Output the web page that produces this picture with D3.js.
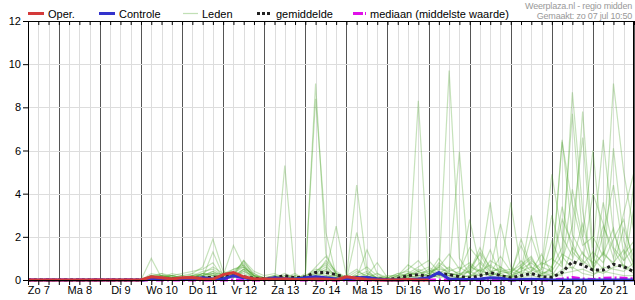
<!DOCTYPE html>
<html>
<head>
<meta charset="utf-8">
<script src="https://cdn.jsdelivr.net/npm/d3@7"></script>
<style>
body { margin: 0; background: #fff; }
svg { display: block; font-family: Arial, "Liberation Sans", sans-serif; }
.axis text { font-size: 11px; fill: #000; }
</style>
</head>
<body>
<div id="my_dataviz"></div>
<script>
// day labels, placed at noon of every day (6-hourly steps, first step = zo 7 06:00)
var dayLabels = ["Zo 7","Ma 8","Di 9","Wo 10","Do 11","Vr 12","Za 13","Zo 14","Ma 15","Di 16","Wo 17","Do 18","Vr 19","Za 20","Zo 21"];
var yTicks = [0, 2, 4, 6, 8, 10, 12];

// operational run (stops at wo 17)
var oper = [0,0,0, 0,0,0,0, 0,0,0,0, 0,0.15,0.1,0.05, 0.1,0.12,0.05,0.03, 0.25,0.35,0.15,0.05, 0.05,0.03,0.05,0.02, 0.02,0.05,0.03,0, 0.15,0.08,0.02,0, 0,0,0.02,0, 0];
// control run
var controle = [0,0,0, 0,0,0,0, 0,0,0,0, 0,0.03,0.05,0.02, 0.02,0.05,0.1,0.05, 0.05,0.2,0.1,0.02, 0.02,0.1,0.05,0.05, 0.1,0.15,0.1,0.05, 0.05,0.1,0.12,0.05, 0,0,0.02,0.05, 0.1,0.35,0.05,0.02, 0.02,0.05,0.1,0.08, 0,0.02,0.03,0.02, 0,0,0,0, 0,0,0,0, 0];
var gemiddelde = [0,0,0, 0,0,0,0, 0,0,0,0, 0,0.05,0.08,0.05, 0.05,0.08,0.1,0.12, 0.15,0.2,0.15,0.08, 0.05,0.1,0.2,0.1, 0.15,0.35,0.35,0.25, 0.1,0.12,0.1,0.05, 0.03,0.08,0.2,0.25, 0.15,0.3,0.25,0.15, 0.1,0.2,0.35,0.2, 0.1,0.2,0.3,0.15, 0.12,0.35,0.85,0.7, 0.46,0.46,0.73,0.62, 0.38];
var mediaan = [0,0,0, 0,0,0,0, 0,0,0,0, 0,0,0,0, 0,0,0,0, 0,0,0,0, 0,0.03,0.05,0, 0,0,0,0, 0,0,0,0, 0,0,0,0, 0,0,0,0, 0,0,0,0, 0,0,0,0, 0,0.05,0.12,0.05, 0.02,0.08,0.1,0.08, 0.05];

// ensemble members
var lid01 = [0,0,0, 0,0,0,0, 0,0,0,0, 0,1.0,0.1,0.2, 0.1,0,0.2,0.3, 0.1,0.3,0.9,0.2, 0,0.1,0,0.2, 0.1,9.1,1.2,0.3, 0,0.2,0,0.1, 0,0,0.1,0.4, 0.2,0.6,0.3,0, 0.5,1.2,0.4,0.2, 0.1,0.6,1.0,0.3, 0.4,6.5,2.1,1.2, 0.8,2.5,1.4,0.6, 0.3];
var lid02 = [0,0,0, 0,0,0,0, 0,0,0,0, 0,0.2,0.3,0.1, 0.2,0.3,0.6,1.9, 0.4,0.2,0.5,0.1, 0,0,5.3,0.1, 0,0.2,0.9,0.4, 0.1,4.4,0.5,0, 0,0.1,0.3,0.2, 0.5,0.2,9.7,1.0, 0.3,0.8,0.3,0.6, 0.2,0.4,3.0,0.7, 1.0,0.6,8.7,3.2, 0.5,1.3,0.7,2.4, 1.0];
var lid03 = [0,0,0, 0,0,0,0, 0,0,0,0, 0,0.1,0.2,0.2, 0.1,0.2,0.4,0.5, 0.2,1.6,0.6,0.2, 0.1,0.2,0.1,0, 0.3,8.4,2.2,0.2, 0,2.2,0.3,0.1, 0.1,0,0.2,8.3, 0.4,0.3,0.6,0.2, 2.8,0.6,0.2,0.4, 0.3,1.6,0.5,0.2, 0.6,1.5,7.7,2.0, 6.0,1.2,0.8,1.4, 0.5];
var lid04 = [0,0,0, 0,0,0,0, 0,0,0,0, 0,0.2,0.1,0.3, 0.2,0.1,0.3,0.6, 0.3,0.4,0.8,0.3, 0,0.1,0.3,0.1, 0.2,0.5,0.4,2.5, 0.2,0.1,1.4,0.3, 0,0.2,0.5,0.9, 0.3,1.0,0.4,5.95, 0.2,0.5,3.6,0.3, 0.4,0.2,0.9,0.5, 4.9,2.0,1.1,7.8, 1.5,6.5,2.2,0.9, 4.5];
var lid05 = [0,0,0, 0,0,0,0, 0,0,0,0, 0,0.3,0.2,0.1, 0,0.2,0.1,1.3, 0.2,0.5,0.7,0.1, 0,0,0.1,0.2, 0.1,0.3,0.6,0.2, 0.1,0.4,0.2,0.8, 0.1,0.3,0.4,0.2, 0.2,0.8,0.5,0.3, 0.4,1.5,0.5,2.6, 0.6,0.3,0.4,1.2, 0.3,6.4,3.5,1.6, 2.0,1.1,9.1,5.0, 2.2];
var lid06 = [0,0,0, 0,0,0,0, 0,0,0,0, 0,0.1,0.3,0.2, 0.1,0.2,0.2,0.4, 0.1,0.2,0.9,0.4, 0.2,0.3,0.1,0, 0.2,0.4,0.8,0.3, 0,0.3,0.6,0.2, 0,0.1,0.3,0.6, 0.9,0.4,0.3,0.2, 0.6,0.4,0.7,0.3, 3.6,0.5,0.8,0.4, 0.2,0.9,2.5,6.6, 1.0,0.5,6.1,1.8, 0.7];
var lid07 = [0,0,0, 0,0,0,0, 0,0,0,0, 0,0.2,0.2,0.1, 0.1,0.1,0.3,0.2, 0.2,0.3,0.6,0.2, 0,0.1,0.2,0.1, 0.1,0.6,1.1,0.3, 0.1,0.2,0.4,0.1, 0.2,0.2,0.7,0.4, 0.6,0.3,0.2,0.4, 1.5,0.9,0.4,0.5, 0.2,1.9,0.6,0.3, 0.5,3.4,1.3,0.8, 4.0,2.6,1.0,3.1, 5.0];
var lid08 = [0,0,0, 0,0,0,0, 0,0,0,0, 0,0.1,0.1,0.2, 0.3,0.4,0.5,0.8, 0.1,0.2,0.5,0.1, 0.1,0,0.1,0.3, 0,0.4,0.7,0.1, 0.2,0.5,0.1,0, 0.1,0,0.2,0.5, 0.3,0.6,1.2,0.5, 0.8,0.4,0.3,1.1, 0.4,0.7,1.1,0.2, 1.8,0.7,4.2,1.9, 0.6,3.6,1.5,0.9, 1.5];
var lid09 = [0,0,0, 0,0,0,0, 0,0,0,0, 0,0.2,0.1,0.1, 0.1,0.2,0.3,0.3, 0.3,0.5,0.6,0.2, 0,0.2,0.1,0.1, 0.1,0.2,0.5,0.2, 0,0.1,0.3,0.1, 0.1,0.2,0.3,0.3, 0.4,0.5,0.4,0.6, 0.3,1.3,0.6,0.4, 0.5,0.3,2.0,0.6, 0.4,1.2,0.9,2.6, 0.7,1.2,2.4,0.5, 3.4];
var lid10 = [0,0,0, 0,0,0,0, 0,0,0,0, 0,0.1,0.2,0.1, 0,0.1,0.1,0.2, 0.1,0.2,0.4,0.1, 0,0.1,0,0.1, 0.1,0.3,0.2,0.1, 0,0.1,0.2,0, 0,0.1,0.1,0.2, 0.2,0.3,0.2,0.1, 0.2,0.3,0.2,0.1, 0.1,0.2,0.3,0.2, 0.2,0.3,0.4,0.5, 0.3,0.4,0.3,0.2, 0.2];
var lid11 = [0,0,0, 0,0,0,0, 0,0,0,0, 0,0,0.1,0.2, 0.1,0.3,0.2,0.1, 0,0.3,0.7,0.2, 0.1,0,0.2,0, 0,0.2,0.3,0.1, 0.1,0,0.2,0.1, 0,0.2,0.2,0.1, 0.1,0.2,0.3,0.2, 0.4,0.2,0.9,0.6, 0.3,0.9,0.4,0.8, 0.6,2.8,1.7,0.7, 1.3,0.8,1.9,2.8, 0.6];
var lid12 = [0,0,0, 0,0,0,0, 0,0,0,0, 0,0.1,0.1,0, 0.2,0.1,0.2,0.4, 0.2,0.1,0.5,0.3, 0.1,0.1,0,0, 0.2,0.1,0.4,0.2, 0,0.1,0.1,0.3, 0.1,0.3,0.2,0.4, 0.2,0.7,0.3,0.2, 0.7,0.3,1.4,0.2, 0.2,0.6,0.3,0.5, 3.0,1.1,0.5,1.3, 0.4,2.1,4.4,1.2, 1.8];
var lid13 = [0,0,0, 0,0,0,0, 0,0,0,0, 0,0,0.2,0.1, 0,0.1,0.3,0.2, 0.1,0.3,0.3,0.1, 0,0.1,0.1,0, 0,0.1,0.2,0.1, 0,0,0.1,0, 0,0.1,0.1,0, 0.1,0.2,0.1,0.1, 0.2,0.2,0.3,0.2, 0.2,0.1,0.2,0.1, 0.1,0.5,0.6,0.3, 0.2,0.6,0.5,0.4, 0.8];
var lid14 = [0,0,0, 0,0,0,0, 0,0,0,0, 0,0.2,0,0.1, 0.1,0,0.1,0.3, 0.1,0.1,0.4,0.2, 0.1,0.2,0,0, 0,0.1,0.1,0.3, 0.1,0.2,0,0, 0,0,0.2,0.1, 0.3,0.1,0.2,0.3, 0.1,0.5,0.2,0.3, 0.1,0.4,0.6,0.2, 0.3,0.2,1.5,0.9, 0.5,0.3,0.6,0.7, 0.4];
var leden = [lid01, lid02, lid03, lid04, lid05, lid06, lid07, lid08, lid09, lid10, lid11, lid12, lid13, lid14];

// set the dimensions and margins of the graph
var W = 635, H = 300;
var margin = {top: 21, right: 1, bottom: 20, left: 28};

var svg = d3.select("#my_dataviz")
  .append("svg")
  .attr("width", W)
  .attr("height", H);

var x = d3.scaleLinear()
  .domain([0, 59])
  .range([margin.left, W - margin.right]);

var y = d3.scaleLinear()
  .domain([0, 12])
  .range([H - margin.bottom, margin.top]);

var steps = d3.range(0, 60);

// vertical grid: light every 6 hours, dark at midnight
svg.append("g")
  .selectAll("line")
  .data(steps.slice(1))
  .enter()
  .append("line")
    .attr("x1", function(d) { return Math.round(x(d)) + 0.5; })
    .attr("x2", function(d) { return Math.round(x(d)) + 0.5; })
    .attr("y1", y(12))
    .attr("y2", y(0))
    .style("stroke", function(d) { return (d % 4 == 3) ? "#555" : "#ddd"; })
    .style("stroke-width", 1);

// horizontal grid
svg.append("g")
  .selectAll("line")
  .data(yTicks.slice(1, -1))
  .enter()
  .append("line")
    .attr("x1", x(0))
    .attr("x2", x(59))
    .attr("y1", function(d) { return Math.round(y(d)) + 0.5; })
    .attr("y2", function(d) { return Math.round(y(d)) + 0.5; })
    .style("stroke", "#ddd");

// lines
var line = d3.line()
  .defined(function(d) { return d != null; })
  .x(function(d, i) { return x(i); })
  .y(function(d) { return y(d); });

svg.append("g")
  .selectAll("path")
  .data(leden)
  .enter()
  .append("path")
    .attr("d", line)
    .style("fill", "none")
    .style("stroke", "#4ea52c")
    .style("stroke-opacity", 0.32)
    .style("stroke-width", 1.2);

svg.append("path")
  .attr("d", line(mediaan))
  .style("fill", "none")
  .style("stroke", "#e010e8")
  .style("stroke-width", 3)
  .style("stroke-dasharray", "8,3,2,3");

svg.append("path")
  .attr("d", line(gemiddelde))
  .style("fill", "none")
  .style("stroke", "#222")
  .style("stroke-width", 3)
  .style("stroke-dasharray", "3,3");

svg.append("path")
  .attr("d", line(controle))
  .style("fill", "none")
  .style("stroke", "#3333cc")
  .style("stroke-width", 3);

svg.append("path")
  .attr("d", line(oper))
  .style("fill", "none")
  .style("stroke", "#d43a3a")
  .style("stroke-width", 3);

// frame
svg.append("rect")
  .attr("x", x(0) + 0.5)
  .attr("y", y(12) + 0.5)
  .attr("width", x(59) - x(0) - 1)
  .attr("height", y(0) - y(12))
  .style("fill", "none")
  .style("stroke", "#000");

// X axis
svg.append("g")
  .attr("class", "axis")
  .attr("transform", "translate(0," + y(0) + ")")
  .call(d3.axisBottom(x)
    .tickValues(steps)
    .tickSize(5)
    .tickFormat(function(d) { return (d % 4 == 1) ? dayLabels[(d - 1) / 4] : ""; }))
  .call(function(g) { g.select(".domain").remove(); })
  .call(function(g) { g.selectAll("text").attr("dy", "0.85em").attr("y", 5); });

// top ticks
svg.append("g")
  .attr("transform", "translate(0," + y(12) + ")")
  .call(d3.axisBottom(x).tickValues(steps).tickSize(4).tickFormat(""))
  .call(function(g) { g.select(".domain").remove(); });

// Y axis
svg.append("g")
  .attr("class", "axis")
  .attr("transform", "translate(" + x(0) + ",0)")
  .call(d3.axisLeft(y).tickValues(yTicks).tickSize(5).tickPadding(2))
  .call(function(g) { g.select(".domain").remove(); });

// legend
var legend = [
  {name: "Oper.", x: 28, w: 16, color: "#d43a3a", dash: null, width: 3, op: 1},
  {name: "Controle", x: 99, w: 16, color: "#3333cc", dash: null, width: 3, op: 1},
  {name: "Leden", x: 183, w: 15, color: "#4ea52c", dash: null, width: 1.2, op: 0.35},
  {name: "gemiddelde", x: 257, w: 15, color: "#222", dash: "3,2", width: 3, op: 1},
  {name: "mediaan (middelste waarde)", x: 353, w: 14, color: "#e010e8", dash: "10,2,1,2", width: 3, op: 1}
];
var lg = svg.append("g").selectAll("g").data(legend).enter().append("g");
lg.append("line")
  .attr("x1", function(d) { return d.x; })
  .attr("x2", function(d) { return d.x + d.w; })
  .attr("y1", 13.5).attr("y2", 13.5)
  .style("stroke", function(d) { return d.color; })
  .style("stroke-width", function(d) { return d.width; })
  .style("stroke-opacity", function(d) { return d.op; })
  .style("stroke-dasharray", function(d) { return d.dash; });
lg.append("text")
  .attr("x", function(d) { return d.x + d.w + (d.name == "mediaan (middelste waarde)" ? 3 : 4); })
  .attr("y", 17.5)
  .style("font-size", "11px")
  .text(function(d) { return d.name; });

// source
svg.append("text")
  .attr("x", 632).attr("y", 9)
  .attr("text-anchor", "end")
  .style("font-size", "9px")
  .style("letter-spacing", "-0.2px")
  .style("fill", "#999")
  .text("Weerplaza.nl - regio midden");
svg.append("text")
  .attr("x", 632).attr("y", 19)
  .attr("text-anchor", "end")
  .style("font-size", "9px")
  .style("letter-spacing", "-0.2px")
  .style("fill", "#999")
  .text("Gemaakt: zo 07 jul 10:50");
</script>
</body>
</html>
